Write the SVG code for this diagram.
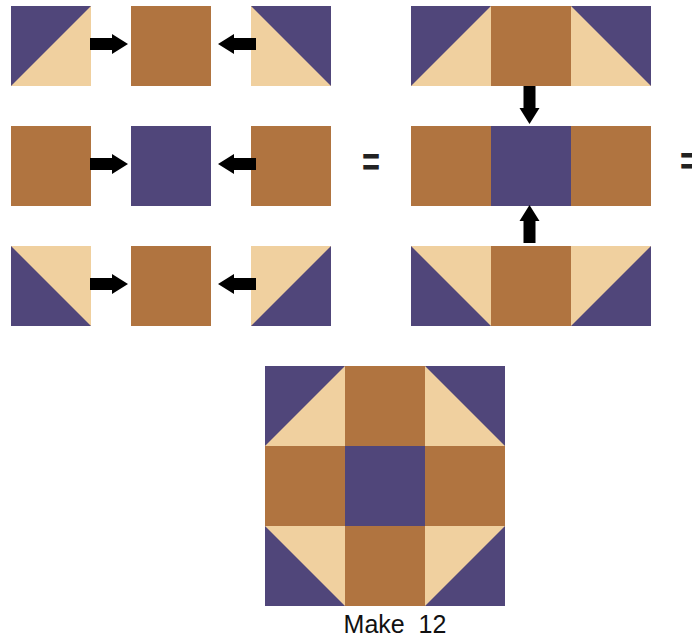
<svg xmlns="http://www.w3.org/2000/svg" width="692" height="641" viewBox="0 0 692 641">
<style>
.p{fill:#50467A}
.t{fill:#F0D09F}
.b{fill:#B07440}
.a{fill:#000}
.eq{font-family:"Liberation Sans",Arial,sans-serif;font-weight:bold;font-size:40px;fill:#222}
.lbl{font-family:"Liberation Sans",Arial,sans-serif;font-size:25px;fill:#111}
</style>
<defs>
<g id="hstUL"><rect class="t" width="80" height="80"/><polygon class="p" points="0,0 80,0 0,80"/></g>
<g id="hstUR"><rect class="t" width="80" height="80"/><polygon class="p" points="0,0 80,0 80,80"/></g>
<g id="hstLL"><rect class="t" width="80" height="80"/><polygon class="p" points="0,0 0,80 80,80"/></g>
<g id="hstLR"><rect class="t" width="80" height="80"/><polygon class="p" points="80,0 80,80 0,80"/></g>
<rect id="sqB" class="b" width="80" height="80"/>
<rect id="sqP" class="p" width="80" height="80"/>
<polygon id="arR" class="a" points="0,-6 22,-6 22,-10 38,0 22,10 22,6 0,6"/>
</defs>
<rect width="692" height="641" fill="#fff"/>

<g id="row1-left"><use href="#hstUL" x="11" y="6"/></g>
<g id="row1-mid"><use href="#sqB" x="131" y="6"/></g>
<g id="row1-right"><use href="#hstUR" x="251" y="6"/></g>
<g id="row2-left"><use href="#sqB" x="11" y="126"/></g>
<g id="row2-mid"><use href="#sqP" x="131" y="126"/></g>
<g id="row2-right"><use href="#sqB" x="251" y="126"/></g>
<g id="row3-left"><use href="#hstLL" x="11" y="246"/></g>
<g id="row3-mid"><use href="#sqB" x="131" y="246"/></g>
<g id="row3-right"><use href="#hstLR" x="251" y="246"/></g>

<g id="eq1"><text class="eq" x="362" y="176" textLength="18" lengthAdjust="spacingAndGlyphs">=</text></g>

<g id="strip1"><use href="#hstUL" x="411" y="6"/><use href="#sqB" x="491" y="6"/><use href="#hstUR" x="571" y="6"/></g>
<g id="strip2"><use href="#sqB" x="411" y="126"/><use href="#sqP" x="491" y="126"/><use href="#sqB" x="571" y="126"/></g>
<g id="strip3"><use href="#hstLL" x="411" y="246"/><use href="#sqB" x="491" y="246"/><use href="#hstLR" x="571" y="246"/></g>

<g id="eq2"><text class="eq" x="680" y="175" textLength="18" lengthAdjust="spacingAndGlyphs">=</text></g>

<g id="block">
<use href="#hstUL" x="265" y="366"/><use href="#sqB" x="345" y="366"/><use href="#hstUR" x="425" y="366"/>
<use href="#sqB" x="265" y="446"/><use href="#sqP" x="345" y="446"/><use href="#sqB" x="425" y="446"/>
<use href="#hstLL" x="265" y="526"/><use href="#sqB" x="345" y="526"/><use href="#hstLR" x="425" y="526"/>
</g>
<g id="label"><text class="lbl" x="395" y="633" text-anchor="middle" xml:space="preserve">Make  12</text></g>

<g id="connectors">
<use href="#arR" transform="translate(90,44)"/>
<use href="#arR" transform="translate(256,44) scale(-1,1)"/>
<use href="#arR" transform="translate(90,164)"/>
<use href="#arR" transform="translate(256,164) scale(-1,1)"/>
<use href="#arR" transform="translate(90,284)"/>
<use href="#arR" transform="translate(256,284) scale(-1,1)"/>
<use href="#arR" transform="translate(529.5,86) rotate(90)"/>
<use href="#arR" transform="translate(529.5,243) rotate(-90)"/>
</g>
</svg>
